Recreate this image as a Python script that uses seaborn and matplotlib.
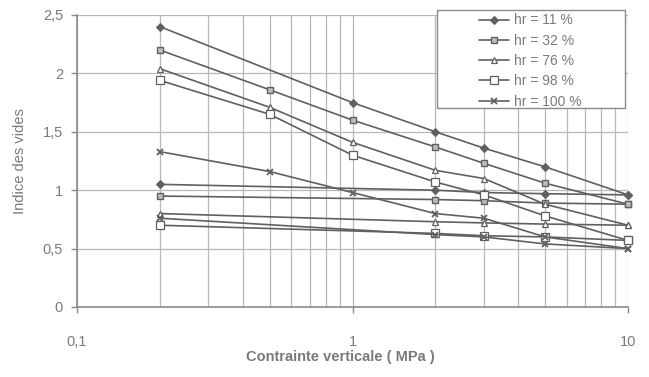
import numpy as np
import pandas as pd
import matplotlib
matplotlib.use("Agg")
import matplotlib.pyplot as plt
from matplotlib.patches import Rectangle
from matplotlib.ticker import FixedLocator, FuncFormatter, NullFormatter
import seaborn as sns

# Contrainte verticale (MPa) – chargement puis déchargement
contrainte_charge = [0.2, 0.5, 1, 2, 3, 5, 10]
contrainte_decharge = [10, 5, 3, 2, 0.2]

series = ["hr = 11 %", "hr = 32 %", "hr = 76 %", "hr = 98 %", "hr = 100 %"]

# Indice des vides – chargement
e_charge_11 = [2.40, np.nan, 1.75, 1.50, 1.36, 1.20, 0.96]
e_charge_32 = [2.20, 1.86, 1.60, 1.37, 1.23, 1.06, 0.88]
e_charge_76 = [2.04, 1.71, 1.41, 1.17, 1.10, 0.88, 0.70]
e_charge_98 = [1.94, 1.65, 1.30, 1.07, 0.96, 0.78, 0.57]
e_charge_100 = [1.33, 1.16, 0.98, 0.80, 0.76, 0.60, 0.50]

# Indice des vides – déchargement
e_decharge_11 = [0.96, 0.97, 0.98, 1.00, 1.05]
e_decharge_32 = [0.88, 0.89, 0.91, 0.92, 0.95]
e_decharge_76 = [0.70, 0.71, 0.72, 0.73, 0.80]
e_decharge_98 = [0.57, 0.60, 0.61, 0.63, 0.70]
e_decharge_100 = [0.50, 0.54, 0.60, 0.62, 0.76]

charges = [e_charge_11, e_charge_32, e_charge_76, e_charge_98, e_charge_100]
decharges = [e_decharge_11, e_decharge_32, e_decharge_76, e_decharge_98, e_decharge_100]

rows = []
for nom, ec, ed in zip(series, charges, decharges):
    for c, e in zip(contrainte_charge, ec):
        rows.append((nom, "charge", c, e))
    for c, e in zip(contrainte_decharge, ed):
        rows.append((nom, "decharge", c, e))
df = pd.DataFrame(rows, columns=["serie", "branche", "contrainte", "indice"]).dropna()

sns.set_theme(style="white")
plt.rcParams["font.family"] = ["Liberation Sans", "DejaVu Sans"]

LINE = "#606060"
TEXT = "#7a7a7a"
GRID = "#b8b8b8"

styles = {
    "hr = 11 %": dict(marker="D", markersize=4, mfc=LINE, mec=LINE),
    "hr = 32 %": dict(marker="s", markersize=5, mfc="#bdbdbd", mec=LINE, mew=1.0),
    "hr = 76 %": dict(marker="^", markersize=5, mfc="white", mec=LINE, mew=0.9),
    "hr = 98 %": dict(marker="s", markersize=5.5, mfc="white", mec=LINE, mew=0.9),
    "hr = 100 %": dict(marker="x", markersize=5, mec=LINE, mew=1.3),
}

fig = plt.figure(figsize=(6.49, 3.77), dpi=100)
ax = fig.add_axes([77 / 649, 1 - 307 / 377, (628 - 77) / 649, (307 - 15) / 377])

for nom in series:
    for branche in ["charge", "decharge"]:
        d = df[(df.serie == nom) & (df.branche == branche)]
        sns.lineplot(data=d, x="contrainte", y="indice", ax=ax, sort=False,
                     estimator=None, color=LINE, linewidth=1.2,
                     label=nom if branche == "charge" else "_nolegend_",
                     legend=False, zorder=3, clip_on=False, **styles[nom])

ax.set_xscale("log")
ax.set_xlim(0.1, 10)
ax.set_ylim(0, 2.5)

ax.xaxis.set_major_locator(FixedLocator([0.1, 1, 10]))
ax.xaxis.set_minor_locator(FixedLocator(
    [k * 0.1 for k in range(2, 10)] + [float(k) for k in range(2, 10)]))
ax.xaxis.set_minor_formatter(NullFormatter())
ax.xaxis.set_major_formatter(FuncFormatter(lambda v, p: f"{v:g}".replace(".", ",")))
ax.set_yticks([0, 0.5, 1, 1.5, 2, 2.5])
ax.yaxis.set_major_formatter(FuncFormatter(lambda v, p: f"{v:g}".replace(".", ",")))

ax.grid(True, which="major", axis="both", color=GRID, linewidth=0.9)
ax.grid(True, which="minor", axis="x", color=GRID, linewidth=0.9)
ax.set_axisbelow(True)

for side in ["top", "right"]:
    ax.spines[side].set_visible(False)
for side in ["left", "bottom"]:
    ax.spines[side].set_color("#8a8a8a")
    ax.spines[side].set_linewidth(1.2)

ax.tick_params(axis="both", which="major", length=4, width=1, color="#8a8a8a",
               labelcolor=TEXT, labelsize=10.5, direction="out",
               left=True, bottom=True)
ax.tick_params(axis="x", which="major", pad=16)
ax.tick_params(axis="y", which="major", pad=6)
ax.tick_params(axis="x", which="minor", length=0)

ax.set_xlabel("")
ax.set_ylabel("")
fig.text(340 / 649, 1 - 357 / 377, "Contrainte verticale ( MPa )", ha="center",
         va="center", fontsize=10.5, fontweight="bold", color=TEXT)
fig.text(20 / 649, 1 - 161 / 377, "Indice des vides", ha="center", va="center",
         rotation=90, fontsize=10.5, color=TEXT)

# Cadre de la légende
fig.patches.append(Rectangle((437 / 649, 1 - 108 / 377), (625 - 437) / 649, 98 / 377,
                             transform=fig.transFigure, facecolor="white",
                             edgecolor="#8a8a8a", linewidth=1.0, zorder=5))
handles, labels = ax.get_legend_handles_labels()
leg = fig.legend(handles, labels, loc="center", bbox_to_anchor=(530 / 649, 1 - 61 / 377),
                 frameon=False, fontsize=10, handlelength=2.2, handletextpad=0.3,
                 labelspacing=0.45, borderpad=0)
leg.set_zorder(6)
for t in leg.get_texts():
    t.set_color(TEXT)

fig.savefig("out.png", dpi=100)
